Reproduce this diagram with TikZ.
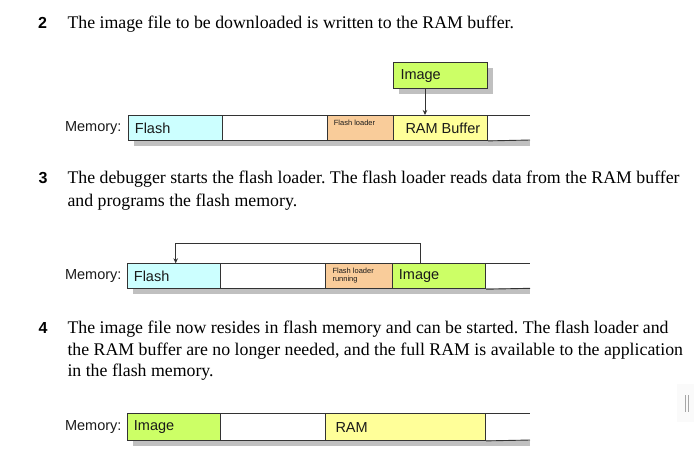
\documentclass[tikz,border=0pt]{standalone}
\usepackage{fontspec}
\setmainfont{Liberation Serif}
\setsansfont{Liberation Sans}
\usetikzlibrary{calc,arrows.meta}
\definecolor{cflash}{HTML}{CCFFFF}
\definecolor{cload}{HTML}{F9CC9A}
\definecolor{cram}{HTML}{FFFF99}
\definecolor{cimg}{HTML}{CCFF66}
\definecolor{cline}{HTML}{333333}
\definecolor{cshadow}{HTML}{C0C0C0}
\definecolor{ctext}{HTML}{1A1A1A}
\frenchspacing
\begin{document}
\begin{tikzpicture}[x=1pt,y=-1pt,
 body/.style={font=\fontsize{17.8}{23.3}\selectfont, anchor=base west, inner sep=0pt},
 num/.style={font=\sffamily\bfseries\fontsize{16}{18}\selectfont, anchor=base west, inner sep=0pt},
 memlabel/.style={font=\sffamily\fontsize{14.5}{16}\selectfont, anchor=east, inner sep=0pt, text=ctext},
 cell/.style={draw=cline, line width=0.9pt, anchor=north west, minimum height=25pt, inner sep=0pt},
 celltext/.style={font=\sffamily\fontsize{14.5}{16}\selectfont, anchor=west, inner sep=0pt, text=ctext},
 tinytext/.style={font=\sffamily\fontsize{7.5}{8.5}\selectfont, anchor=north west, inner sep=0pt, align=left, text=ctext},
 shadowbox/.style={fill=cshadow, draw=none},
 link/.style={draw=cline, line width=0.8pt},
 tip/.style={-{Stealth[length=5pt,width=4.5pt]}}
]
\useasboundingbox (0,0) rectangle (694,458);

% ---------- paragraph 2 ----------
\node[num] (n2) at (38,28.3) {2};
\node[body] (p2) at (67.3,28.3) {The image file to be downloaded is written to the RAM buffer.};

% image box
\fill[shadowbox] (399.3,68.3) rectangle (493.3,94.3);
\node[cell, fill=cimg, minimum width=94pt, minimum height=26pt] (img1) at (393.3,62.3) {};
\node[celltext] (img1t) at ($(img1.west)+(7,0)$) {Image};

% bar 1
\fill[shadowbox] (133.7,140) rectangle (530,146);
\node[memlabel] (mem1) at (121.7,128) {Memory:};
\node[cell, fill=cflash, minimum width=94pt] (f1) at (127.7,115) {};
\node[cell, fill=white, minimum width=105pt] (b1) at (221.7,115) {};
\node[cell, fill=cload, minimum width=66.6pt] (l1) at (326.7,115) {};
\node[cell, fill=cram, minimum width=94pt] (r1) at (393.3,115) {};
\coordinate (e1t) at (530,115);
\coordinate (e1b) at (530,140);
\draw[link, line width=0.9pt] (r1.north east) -- (e1t);
\draw[link, line width=0.9pt] (r1.south east) -- (e1b);
\node[celltext] (f1t) at ($(f1.west)+(7,0)$) {Flash};
\node[tinytext] (l1t) at ($(l1.north west)+(7,4.5)$) {Flash loader};
\node[celltext] (r1t) at ($(r1.west)+(12,0)$) {RAM Buffer};
\draw[link, tip] ($(img1.south west)+(31.7,0)$) -- ($(r1.north west)+(31.7,0)$);

% ---------- paragraph 3 ----------
\node[num] (n3) at (38.3,183.3) {3};
\node[body] (p3a) at (67.3,183.3) {The debugger starts the flash loader. The flash loader reads data from the RAM buffer};
\node[body] (p3b) at (67.3,206.7) {and programs the flash memory.};

% bar 2
\fill[shadowbox] (132.7,288.3) rectangle (530,294.3);
\node[memlabel] (mem2) at (121.7,276.3) {Memory:};
\node[cell, fill=cflash, minimum width=93.6pt] (f2) at (126.7,263.3) {};
\node[cell, fill=white, minimum width=105pt] (b2) at (220.3,263.3) {};
\node[cell, fill=cload, minimum width=66.4pt] (l2) at (325.3,263.3) {};
\node[cell, fill=cimg, minimum width=93.6pt] (i2) at (391.7,263.3) {};
\coordinate (e2t) at (530,263.3);
\coordinate (e2b) at (530,288.3);
\draw[link, line width=0.9pt] (i2.north east) -- (e2t);
\draw[link, line width=0.9pt] (i2.south east) -- (e2b);
\node[celltext] (f2t) at ($(f2.west)+(7,0)$) {Flash};
\node[tinytext] (l2t) at ($(l2.north west)+(7,4.5)$) {Flash loader\\running};
\node[celltext] (i2t) at ($(i2.west)+(7,0)$) {Image};
\coordinate (top2) at (420,243.3);
\draw[link, tip] ($(i2.north west)+(28.3,0)$) -- (top2) -| ($(f2.north west)+(49,0)$);

% ---------- paragraph 4 ----------
\node[num] (n4) at (38.3,333.3) {4};
\node[body] (p4a) at (67.3,333.3) {The image file now resides in flash memory and can be started. The flash loader and};
\node[body] (p4b) at (67.3,355) {the RAM buffer are no longer needed, and the full RAM is available to the application};
\node[body] (p4c) at (67.3,376.7) {in the flash memory.};

% bar 3
\fill[shadowbox] (132.7,440) rectangle (530,446);
\node[memlabel] (mem3) at (121.7,427) {Memory:};
\node[cell, fill=cimg, minimum width=93.6pt, minimum height=26.7pt] (i3) at (126.7,413.3) {};
\node[cell, fill=white, minimum width=105pt, minimum height=26.7pt] (b3) at (220.3,413.3) {};
\node[cell, fill=cram, minimum width=160pt, minimum height=26.7pt] (m3) at (325.3,413.3) {};
\coordinate (e3t) at (530,413.3);
\coordinate (e3b) at (530,440);
\draw[link, line width=0.9pt] (m3.north east) -- (e3t);
\draw[link, line width=0.9pt] (m3.south east) -- (e3b);
\node[celltext] (i3t) at ($(i3.west)+(7,0)$) {Image};
\node[celltext] (m3t) at ($(m3.west)+(10,0)$) {RAM};

% scrollbar grip
\fill[gray!4] (677,384) rectangle (694,422);
\draw[gray!70, line width=0.7pt] (685,395) -- (685,411.7);
\draw[gray!70, line width=0.7pt] (688.3,395) -- (688.3,411.7);
\end{tikzpicture}
\end{document}
